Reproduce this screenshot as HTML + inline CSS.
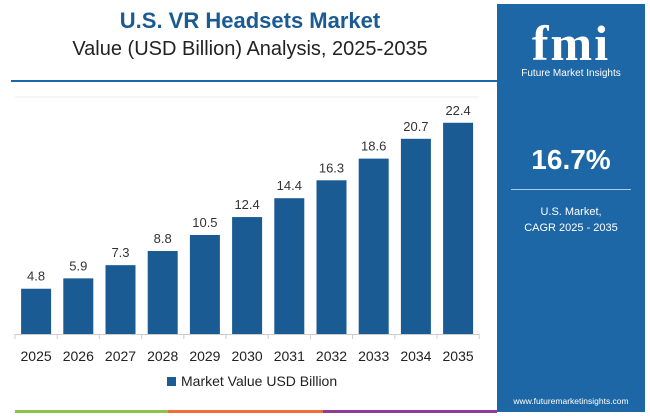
<!DOCTYPE html>
<html><head><meta charset="utf-8"><style>
body{margin:0;width:650px;height:416px;background:#fff;font-family:"Liberation Sans",sans-serif;overflow:hidden;position:relative}
.t1{position:absolute;left:0;width:500px;top:8px;text-align:center;font-weight:bold;font-size:22px;color:#1a5b93}
.t2{position:absolute;left:0;width:500px;top:38px;text-align:center;font-size:20px;color:#222}
.panel{position:absolute;left:497px;top:4px;width:148px;height:408px;background:#1d67a6}
</style></head><body>
<div class="t1">U.S. VR Headsets Market</div>
<div class="t2">Value (USD Billion) Analysis, 2025-2035</div>
<div style="position:absolute;left:11px;top:80px;width:486px;height:2px;background:#1d67a6"></div>
<div class="panel">
 <div style="position:absolute;top:10px;width:148px;text-align:center;color:#fff;font-weight:bold;font-size:50px;letter-spacing:2px;font-family:'Liberation Serif',serif">fmi</div>
 <div style="position:absolute;top:64px;width:148px;text-align:center;color:#fff;font-size:10px">Future Market Insights</div>
 <div style="position:absolute;top:140px;width:148px;text-align:center;color:#fff;font-weight:bold;font-size:28px">16.7%</div>
 <div style="position:absolute;top:185px;left:14px;width:120px;height:1px;background:#a8cbe8"></div>
 <div style="position:absolute;top:200px;width:148px;text-align:center;color:#fff;font-size:11px;line-height:16px">U.S. Market,<br>CAGR 2025 - 2035</div>
 <div style="position:absolute;top:392px;width:148px;text-align:center;color:#fff;font-size:8.5px">www.futuremarketinsights.com</div>
</div>
<svg id="chart" width="500" height="416" style="position:absolute;left:0;top:0"></svg>
<div style="position:absolute;left:15px;top:410px;width:153px;height:3px;background:#8bc34a"></div>
<div style="position:absolute;left:168px;top:410px;width:155px;height:3px;background:#f26b3a"></div>
<div style="position:absolute;left:323px;top:410px;width:174px;height:3px;background:#8e3b9a"></div>
<script>
const categories=["2025","2026","2027","2028","2029","2030","2031","2032","2033","2034","2035"];
const values=[4.8,5.9,7.3,8.8,10.5,12.4,14.4,16.3,18.6,20.7,22.4];
const valueLabels=["4.8","5.9","7.3","8.8","10.5","12.4","14.4","16.3","18.6","20.7","22.4"];
const NS="http://www.w3.org/2000/svg";
const svg=document.getElementById('chart');
const x0=15,pitch=42.2,bw=30,base=334,scale=9.43;
const xPos=i=>x0+pitch*i+(pitch-bw)/2;
const yPos=v=>base-v*scale;
function mk(t,a){const e=document.createElementNS(NS,t);for(const k in a)e.setAttribute(k,a[k]);svg.appendChild(e);return e;}
const g=mk('line',{x1:15,x2:479,y1:97,y2:97,stroke:'#eee'});


categories.forEach((c,i)=>{
 const r=mk('rect',{x:xPos(i),y:yPos(values[i]),width:bw,height:values[i]*scale,fill:'#1a5b93'});
 
 
 const vt=mk('text',{x:xPos(i)+bw/2,y:yPos(values[i])-8,'text-anchor':'middle','font-size':13,fill:'#333'});
 vt.textContent=valueLabels[i];
 
 
 const xt=mk('text',{x:xPos(i)+bw/2,y:361,'text-anchor':'middle','font-size':14,fill:'#222'});
 xt.textContent=c;
 
 
});
const ax=mk('line',{x1:15,x2:479,y1:base+0.5,y2:base+0.5,stroke:'#ccc'});


for(let i=0;i<=categories.length;i++){
 const t=mk('line',{x1:x0+pitch*i,x2:x0+pitch*i,y1:base,y2:base+5,stroke:'#ccc'});
 
 
}
const ls=mk('rect',{x:167,y:377,width:9,height:9,fill:'#1a5b93'});


const lt=mk('text',{x:181,y:386,'font-size':14,fill:'#222'});
lt.textContent='Market Value USD Billion';


</script>
</body></html>
